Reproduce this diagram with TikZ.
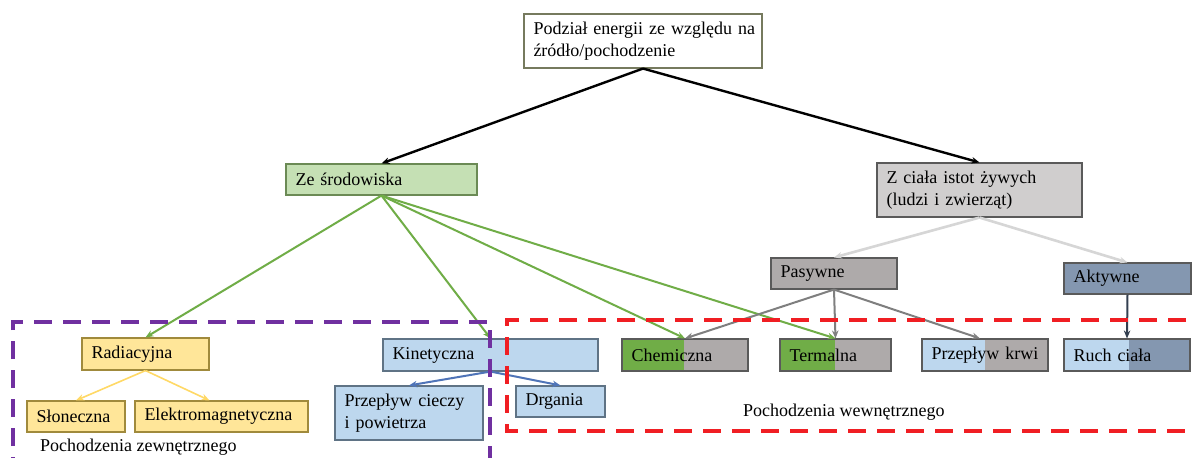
\documentclass[tikz,border=0pt]{standalone}
\usepackage{fontspec}
\setmainfont{Liberation Serif}
\usetikzlibrary{arrows.meta}

\definecolor{envfill}{HTML}{C5E0B4}
\definecolor{envline}{HTML}{6B8A55}
\definecolor{bodyfill}{HTML}{D0CECE}
\definecolor{pasfill}{HTML}{AEAAAA}
\definecolor{aktfill}{HTML}{8497B0}
\definecolor{radfill}{HTML}{FFE699}
\definecolor{radline}{HTML}{A08A3C}
\definecolor{kinfill}{HTML}{BDD7EE}
\definecolor{kinline}{HTML}{5F7385}
\definecolor{chemgreen}{HTML}{70AD47}
\definecolor{greyline}{HTML}{5A5A5A}
\definecolor{rootline}{HTML}{767A5E}
\definecolor{lightlink}{HTML}{D6D6D6}
\definecolor{passlink}{HTML}{7F7F7F}
\definecolor{actlink}{HTML}{333F50}
\definecolor{radlink}{HTML}{FFD966}
\definecolor{kinlink}{HTML}{4F74B8}
\definecolor{outerframe}{HTML}{7030A0}
\definecolor{innerframe}{HTML}{F01E23}

% box with a fixed outline, text set flush left
\newcommand\bx[7]{%
  \pgfmathsetmacro\bxw{#5-#3}%
  \pgfmathsetmacro\bxh{#6-#4}%
  \pgfmathsetmacro\bxt{#5-#3-19}%
  \node[box,#2,minimum width=\bxw pt,minimum height=\bxh pt,text width=\bxt pt]
    (#1) at ({(#3+#5)/2},{(#4+#6)/2}) {#7};}

\tikzset{
  box/.style={rectangle,line width=1.1pt,inner xsep=0pt,inner ysep=0pt,align=left},
  rootbox/.style={draw=rootline,fill=white},
  envbox/.style={draw=envline,fill=envfill},
  bodybox/.style={draw=greyline,fill=bodyfill},
  pasbox/.style={draw=greyline,fill=pasfill},
  aktbox/.style={draw=greyline,fill=aktfill},
  radbox/.style={draw=radline,fill=radfill},
  kinbox/.style={draw=kinline,fill=kinfill},
  split fill/.style 2 args={path picture={%
    \fill[#1] (path picture bounding box.south west) rectangle
      ([xshift=#2]path picture bounding box.north west);}},
  link/.style={line width=2pt,-{Stealth[length=8pt,width=6.5pt]}},
  frame/.style={line width=3.6pt,dash pattern=on 18pt off 11pt},
  caption/.style={inner sep=0pt,anchor=west}
}

\begin{document}
\begin{tikzpicture}[x=1pt,y=-1pt,font=\fontsize{18pt}{21.6pt}\selectfont]
\useasboundingbox (0,0) rectangle (1195,458);
\clip (0,0) rectangle (1195,458);
\fill[white] (0,0) rectangle (1195,458);

% boxes
\bx{root}{rootbox}{524}{14}{762}{68}{\mbox{Podział energii ze względu na}\\\mbox{źródło/pochodzenie}}
\bx{env}{envbox}{286}{164}{477}{195}{Ze środowiska}
\bx{body}{bodybox}{877}{163}{1082}{217}{Z ciała istot żywych\\(ludzi i zwierząt)}
\bx{pas}{pasbox}{771}{258}{897}{289}{Pasywne}
\bx{akt}{aktbox}{1064}{263}{1191}{294}{Aktywne}
\bx{rad}{radbox}{82}{338}{209}{370}{Radiacyjna}
\bx{slo}{radbox}{27}{401}{125}{432}{Słoneczna}
\bx{ele}{radbox}{135}{401}{308}{432}{Elektromagnetyczna}
\bx{kin}{kinbox}{383}{339}{598}{371}{Kinetyczna}
\bx{flow}{kinbox}{335}{386}{483}{440}{Przepływ cieczy\\i powietrza}
\bx{vib}{kinbox}{516}{386}{605}{417}{Drgania}
\bx{chem}{pasbox,split fill={chemgreen}{62pt}}{622}{339}{748}{371}{Chemiczna}
\bx{therm}{pasbox,split fill={chemgreen}{55pt}}{780}{339}{891}{371}{Termalna}
\bx{blood}{pasbox,split fill={kinfill}{63pt}}{922}{339}{1048}{371}{Przepływ krwi}
\bx{move}{aktbox,split fill={kinfill}{65pt}}{1064}{339}{1190}{371}{Ruch ciała}

% captions
\node[caption] (outcap) at (40,447) {Pochodzenia zewnętrznego};
\node[caption] (incap) at (743,412) {Pochodzenia wewnętrznego};

% connectors
\draw[link,black,line width=2.4pt] (root.south) -- (env.north);
\draw[link,black,line width=2.4pt] (root.south) -- (body.north);

\foreach \t in {rad,kin,chem,therm}
  \draw[link,chemgreen] (env.south) -- (\t.north);

\draw[link,lightlink,line width=2.6pt] (body.south) -- (pas.north);
\draw[link,lightlink,line width=2.6pt] (body.south) -- (akt.north);

\foreach \t in {chem,therm}
  \draw[link,passlink] (pas.south) -- (\t.north);
\draw[link,passlink] (pas.south) -- ([xshift=-5pt]blood.north);

\draw[link,actlink] (akt.south) -- (move.north);

\draw[link,radlink,line width=1.6pt] (rad.south) -- (slo.north);
\draw[link,radlink,line width=1.6pt] (rad.south) -- ([xshift=-12pt]ele.north);

\draw[link,kinlink] (kin.south) -- (flow.north);
\draw[link,kinlink] (kin.south) -- (vib.north);

% dashed frames around the two origin groups
\coordinate (oa) at (13,475);
\coordinate (ob) at (13,322);
\coordinate (oc) at (490,322);
\coordinate (od) at (490,475);
\draw[frame,outerframe] (oa) -- (ob) -- (oc) -- (od);

\coordinate (ia) at (1215,320);
\coordinate (ib) at (507,320);
\coordinate (ic) at (507,431);
\coordinate (id) at (1215,431);
\draw[frame,innerframe] (ia) -- (ib) -- (ic) -- (id);
\end{tikzpicture}
\end{document}
